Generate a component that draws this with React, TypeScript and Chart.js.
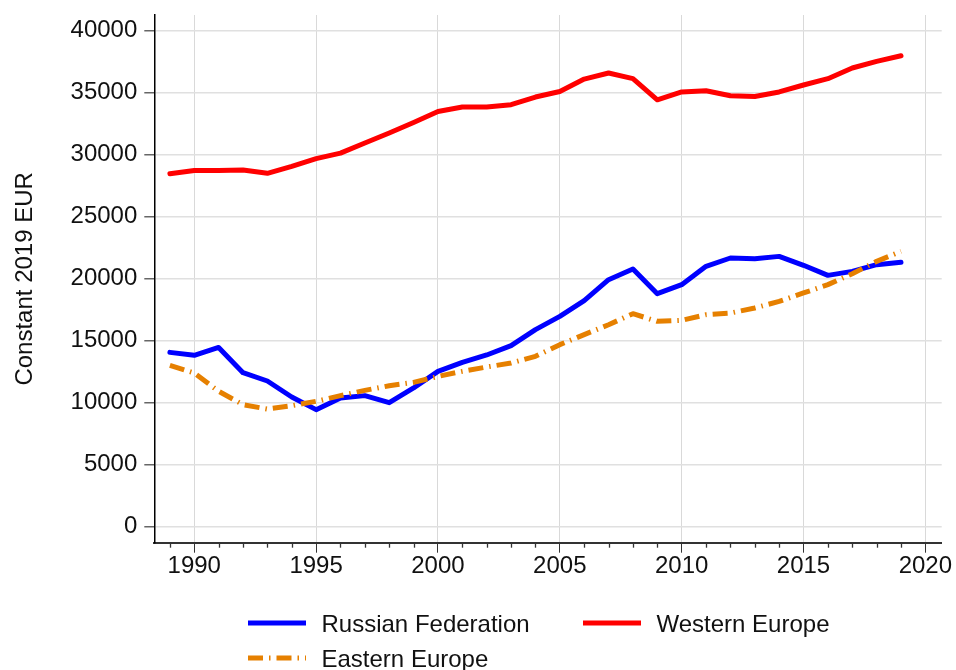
import React, { useEffect, useRef } from "react";
import { Chart, registerables } from "chart.js";

Chart.register(...registerables);

const years = [
  1989, 1990, 1991, 1992, 1993, 1994, 1995, 1996, 1997, 1998, 1999, 2000, 2001, 2002, 2003, 2004,
  2005, 2006, 2007, 2008, 2009, 2010, 2011, 2012, 2013, 2014, 2015, 2016, 2017, 2018, 2019,
];

const russianFederation = [
  14060, 13820, 14460, 12420, 11750, 10460, 9440, 10380, 10570, 10000, 11190, 12530, 13250, 13850,
  14600, 15890, 16960, 18230, 19920, 20780, 18790, 19520, 21000, 21670, 21610, 21800, 21080, 20270,
  20590, 21130, 21320,
];

const westernEurope = [
  28470, 28730, 28730, 28760, 28500, 29060, 29680, 30130, 30940, 31750, 32600, 33490, 33850, 33850,
  34030, 34650, 35100, 36100, 36590, 36130, 34430, 35060, 35160, 34760, 34700, 35060, 35620, 36130,
  36990, 37530, 37980,
];

const easternEurope = [
  13010, 12390, 10920, 9840, 9490, 9760, 10110, 10570, 10990, 11370, 11640, 12120, 12530, 12880,
  13200, 13740, 14680, 15490, 16290, 17180, 16560, 16640, 17100, 17230, 17640, 18170, 18850, 19520,
  20400, 21400, 22200,
];

const xTickYears = [1990, 1995, 2000, 2005, 2010, 2015, 2020];
const yTickValues = [0, 5000, 10000, 15000, 20000, 25000, 30000, 35000, 40000];

const seriesLabels = ["Russian Federation", "Western Europe", "Eastern Europe"];
const yAxisTitle = "Constant 2019 EUR";

const FONT = '"Liberation Sans", Arial, Helvetica, sans-serif';
const BLUE = "#0000ff";
const RED = "#ff0000";
const ORANGE = "rgb(230,128,0)";
const DASH = [15, 6, 1.5, 6];

const toPoints = (vals: number[]) => vals.map((v, i) => ({ x: years[i], y: v }));

const minorTicksPlugin = {
  id: "minorTicks",
  afterDraw(chart: any) {
    const xs = chart.scales.x;
    const { bottom } = chart.chartArea;
    const ctx = chart.ctx;
    ctx.save();
    ctx.strokeStyle = "#333333";
    ctx.lineWidth = 1.3;
    for (let yr = Math.ceil(xs.min); yr <= Math.floor(xs.max); yr++) {
      if (xTickYears.includes(yr)) continue;
      const px = Math.round(xs.getPixelForValue(yr)) + 0.5;
      ctx.beginPath();
      ctx.moveTo(px, bottom);
      ctx.lineTo(px, bottom + 5);
      ctx.stroke();
    }
    ctx.restore();
  },
};

const legendPlugin = {
  id: "customLegend",
  afterDraw(chart: any) {
    const ctx = chart.ctx;
    const items = [
      { label: seriesLabels[0], color: BLUE, dash: [] as number[], x: 248, y: 623 },
      { label: seriesLabels[1], color: RED, dash: [] as number[], x: 583, y: 623 },
      { label: seriesLabels[2], color: ORANGE, dash: DASH, x: 248, y: 658 },
    ];
    ctx.save();
    items.forEach((it) => {
      ctx.beginPath();
      ctx.strokeStyle = it.color;
      ctx.lineWidth = 5;
      ctx.lineCap = "butt";
      ctx.setLineDash(it.dash);
      ctx.moveTo(it.x, it.y);
      ctx.lineTo(it.x + 58, it.y);
      ctx.stroke();
      ctx.setLineDash([]);
      ctx.fillStyle = "#111111";
      ctx.font = `24px ${FONT}`;
      ctx.textAlign = "left";
      ctx.textBaseline = "alphabetic";
      ctx.fillText(it.label, it.x + 73.5, it.y + 8.7);
    });
    ctx.restore();
  },
};

export default function App() {
  const canvasRef = useRef<HTMLCanvasElement | null>(null);

  useEffect(() => {
    if (!canvasRef.current) return;
    const chart = new Chart(canvasRef.current, {
      type: "line",
      data: {
        datasets: [
          {
            label: seriesLabels[0],
            data: toPoints(russianFederation),
            borderColor: BLUE,
            backgroundColor: BLUE,
            borderWidth: 5,
            pointRadius: 0,
            tension: 0,
            borderCapStyle: "round",
            borderJoinStyle: "round",
            order: 1,
          },
          {
            label: seriesLabels[1],
            data: toPoints(westernEurope),
            borderColor: RED,
            backgroundColor: RED,
            borderWidth: 5,
            pointRadius: 0,
            tension: 0,
            borderCapStyle: "round",
            borderJoinStyle: "round",
            order: 2,
          },
          {
            label: seriesLabels[2],
            data: toPoints(easternEurope),
            borderColor: ORANGE,
            backgroundColor: ORANGE,
            borderWidth: 5,
            pointRadius: 0,
            tension: 0,
            borderDash: DASH,
            borderCapStyle: "butt",
            borderJoinStyle: "round",
            order: 0,
          },
        ],
      },
      options: {
        responsive: false,
        animation: false,
        devicePixelRatio: 1,
        layout: { padding: { left: 0, right: 14.3, top: 15, bottom: 87.3 } },
        plugins: {
          legend: { display: false },
          tooltip: { enabled: false },
        },
        scales: {
          x: {
            type: "linear",
            min: 1988.36,
            max: 2020.67,
            afterBuildTicks: (s: any) => {
              s.ticks = xTickYears.map((v) => ({ value: v }));
            },
            afterFit: (s: any) => {
              s.height = 40;
              s.paddingLeft = 0;
              s.paddingRight = 0;
            },
            border: { display: true, color: "#333333", width: 2 },
            grid: {
              color: "#d9d9d9",
              lineWidth: 1,
              tickColor: "#333333",
              tickLength: 10,
              drawTicks: true,
            },
            ticks: {
              autoSkip: false,
              maxRotation: 0,
              padding: -1,
              color: "#111111",
              font: { family: FONT, size: 24 },
              callback: (v: any) => String(v),
            },
          },
          y: {
            type: "linear",
            min: -1290,
            max: 41266,
            afterBuildTicks: (s: any) => {
              s.ticks = yTickValues.map((v) => ({ value: v }));
            },
            afterFit: (s: any) => {
              s.width = 154.3;
              s.paddingTop = 0;
              s.paddingBottom = 0;
            },
            border: { display: true, color: "#000000", width: 1.5 },
            grid: {
              color: "#e0e0e0",
              lineWidth: 1.5,
              tickColor: "#666666",
              tickLength: 10,
            },
            ticks: {
              autoSkip: false,
              padding: 7,
              color: "#111111",
              font: { family: FONT, size: 24 },
              callback: (v: any) => String(v),
            },
            title: {
              display: true,
              text: yAxisTitle,
              color: "#111111",
              font: { family: FONT, size: 24 },
              padding: { top: 11, bottom: 0 },
            },
          },
        },
      },
      plugins: [minorTicksPlugin, legendPlugin],
    } as any);
    return () => chart.destroy();
  }, []);

  return (
    <div style={{ position: "fixed", left: 0, top: 0, width: 956, height: 670, background: "#fff" }}>
      <canvas ref={canvasRef} width={956} height={670} style={{ display: "block" }} />
    </div>
  );
}
